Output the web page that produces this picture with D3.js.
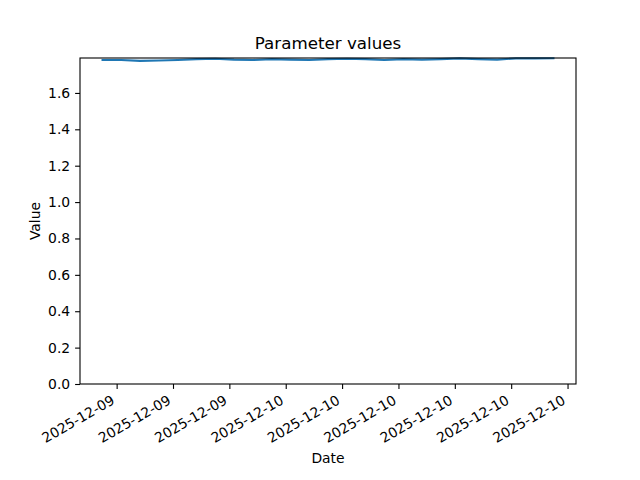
<!DOCTYPE html>
<html lang="en">
<head>
<meta charset="utf-8">
<script src="https://d3js.org/d3.v7.min.js"></script>
<style>
  body { margin: 0; background: #fff; }
  svg text { font-family: "DejaVu Sans", sans-serif; fill: #000; }
</style>
</head>
<body>
<svg width="640" height="480"></svg>
<script>
// hourly readings, 2025-12-09 14:15 UTC onwards
var startTime = "2025-12-09T14:15:00Z";
var paramValues = [1.781, 1.781, 1.776, 1.778, 1.781, 1.786, 1.788, 1.783, 1.781,
                   1.786, 1.783, 1.781, 1.786, 1.788, 1.786, 1.781, 1.786, 1.783,
                   1.786, 1.790, 1.786, 1.783, 1.790, 1.790, 1.791];
var yTicks = [0, 0.2, 0.4, 0.6, 0.8, 1.0, 1.2, 1.4, 1.6];
var yTop = 1.792;

var t0 = new Date(startTime);
var data = paramValues.map(function(v, i) {
  return { date: d3.utcHour.offset(t0, i), value: v };
});

var margin = { left: 80, right: 64, top: 58, bottom: 96 };
var W = 640, H = 480;
var iw = W - margin.left - margin.right, ih = H - margin.top - margin.bottom;

var svg = d3.select("svg");
var g = svg.append("g").attr("transform", "translate(" + margin.left + "," + margin.top + ")");

// 5% padding on x like matplotlib
var ext = d3.extent(data, function(d) { return d.date; });
var span = ext[1] - ext[0];
var x = d3.scaleUtc()
  .domain([new Date(+ext[0] - span * 0.05), new Date(+ext[1] + span * 0.05)])
  .range([0, iw]);
var y = d3.scaleLinear().domain([0, yTop]).range([ih, 0]);

var line = d3.line()
  .x(function(d) { return x(d.date); })
  .y(function(d) { return y(d.value); });

g.append("path")
  .datum(data)
  .attr("fill", "none")
  .attr("stroke", "#1f77b4")
  .attr("stroke-width", 2.08)
  .attr("stroke-linejoin", "round")
  .attr("stroke-linecap", "square")
  .attr("d", line);

var xAxis = d3.axisBottom(x)
  .ticks(d3.utcHour.every(3))
  .tickFormat(d3.utcFormat("%Y-%m-%d"))
  .tickSizeOuter(0).tickSize(4.9).tickPadding(4);
var gx = g.append("g").attr("transform", "translate(0," + ih + ")").call(xAxis);
gx.select(".domain").remove();
gx.selectAll("line").attr("stroke", "#000").attr("stroke-width", 1.1);
// top-right corner of the rotated label sits under the tick
gx.selectAll("text")
  .attr("font-size", 13.9)
  .attr("text-anchor", "end")
  .attr("x", 0).attr("y", 0).attr("dy", null)
  .attr("transform", "translate(-1.6,19) rotate(-30)");

var yAxis = d3.axisLeft(y)
  .tickValues(yTicks)
  .tickFormat(d3.format(".1f"))
  .tickSizeOuter(0).tickSize(4.9).tickPadding(4.9);
var gy = g.append("g").call(yAxis);
gy.select(".domain").remove();
gy.selectAll("line").attr("stroke", "#000").attr("stroke-width", 1.1);
gy.selectAll("text").attr("font-size", 13.9);

// frame
g.append("rect")
  .attr("width", iw).attr("height", ih)
  .attr("fill", "none").attr("stroke", "#000").attr("stroke-width", 1.1);

svg.append("text")
  .attr("x", margin.left + iw / 2).attr("y", 49)
  .attr("text-anchor", "middle").attr("font-size", 16.7)
  .text("Parameter values");

svg.append("text")
  .attr("x", margin.left + iw / 2).attr("y", 463)
  .attr("text-anchor", "middle").attr("font-size", 13.9)
  .text("Date");

svg.append("text")
  .attr("transform", "translate(40," + (margin.top + ih / 2) + ") rotate(-90)")
  .attr("text-anchor", "middle").attr("font-size", 13.9)
  .text("Value");
</script>
</body>
</html>
